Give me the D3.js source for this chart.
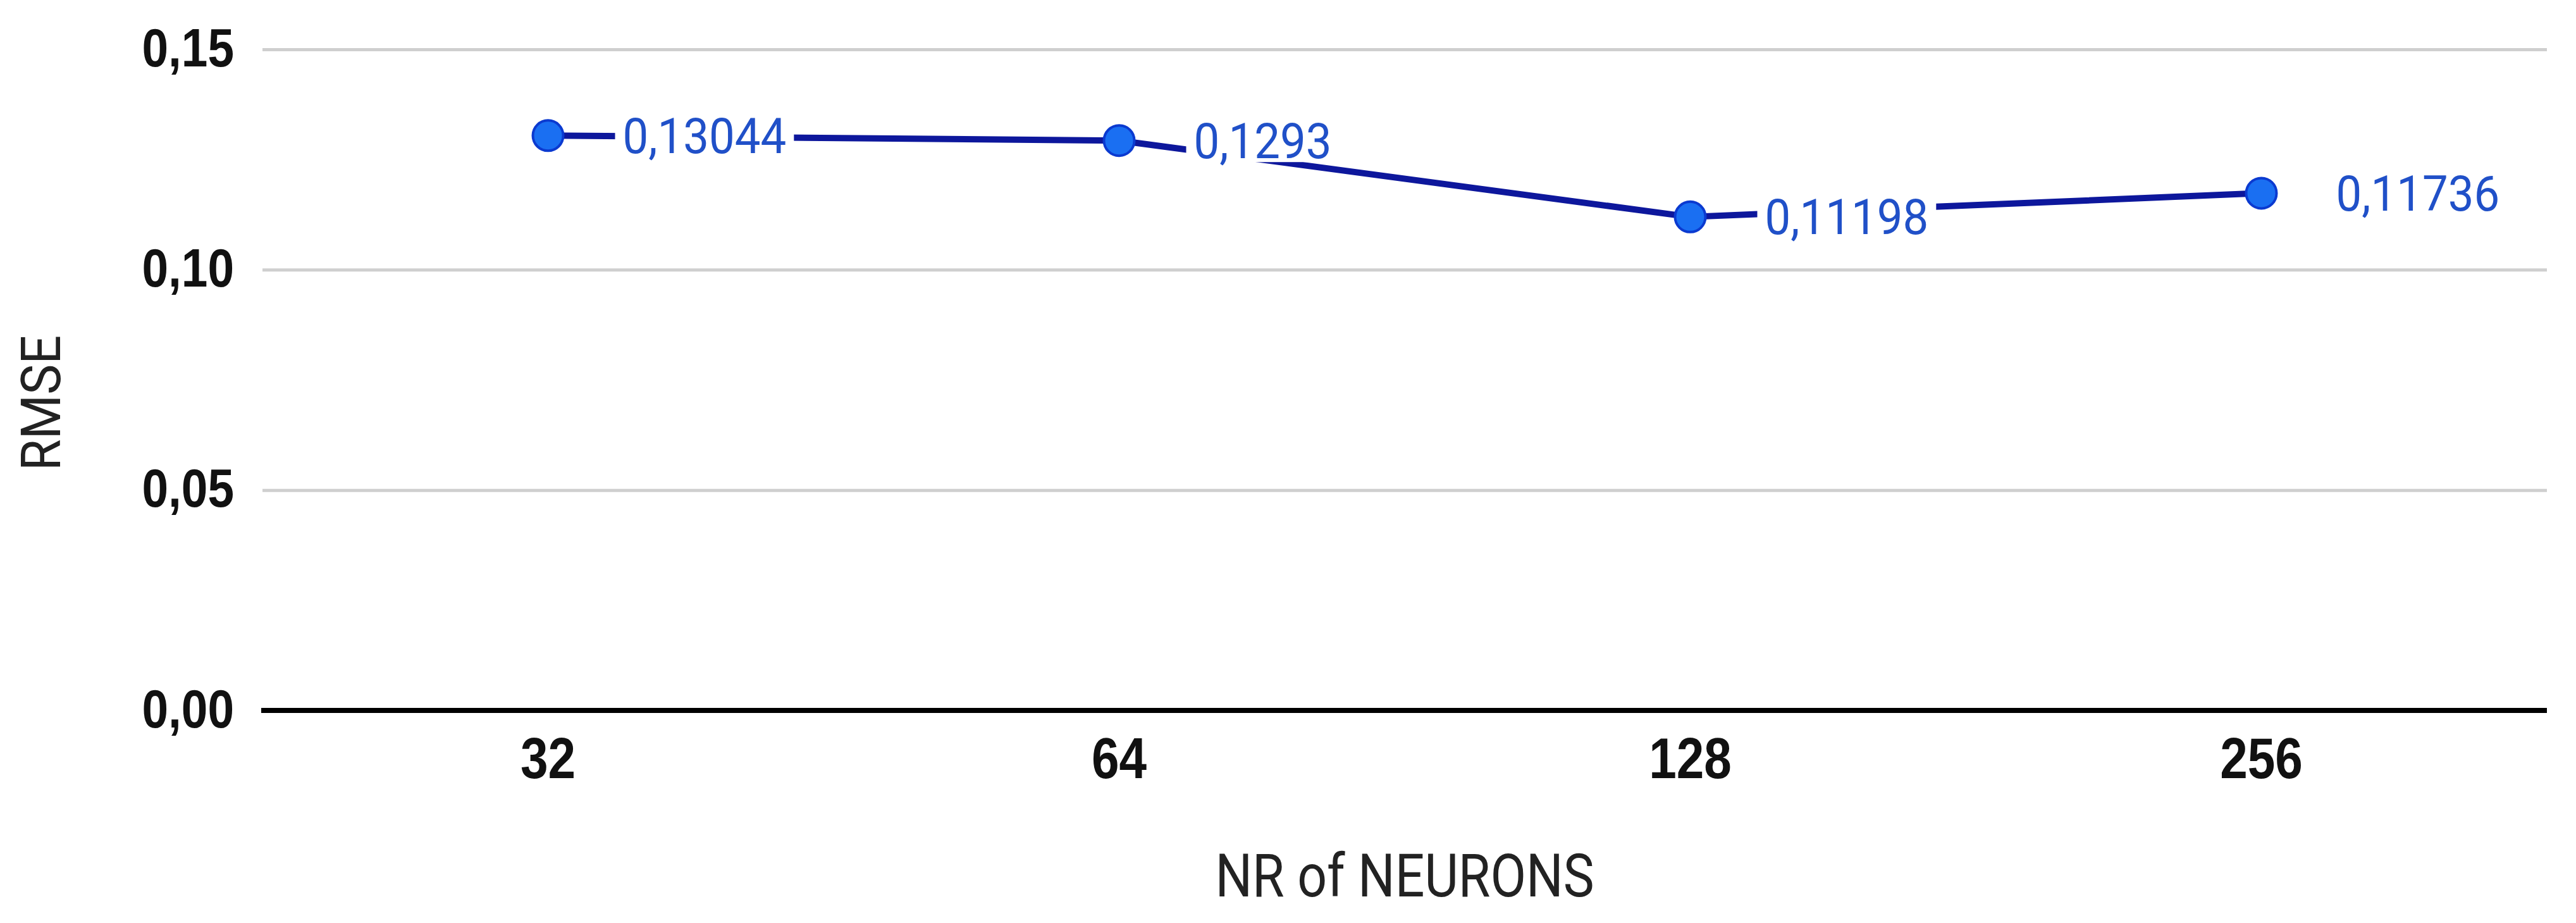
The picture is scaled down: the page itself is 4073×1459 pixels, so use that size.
<!DOCTYPE html>
<html>
<head>
<meta charset="utf-8">
<script src="https://cdn.jsdelivr.net/npm/d3@7/dist/d3.min.js"></script>
<style>
  html, body { margin: 0; padding: 0; background: #ffffff; }
  svg { display: block; }
</style>
</head>
<body>
<script>
// ---- data ----
const categories = ["32", "64", "128", "256"];
const rmseValues = [0.13044, 0.1293, 0.11198, 0.11736];
const pointLabels = ["0,13044", "0,1293", "0,11198", "0,11736"];
const yTickValues = [0, 0.05, 0.10, 0.15];
const xTitle = "NR of NEURONS";
const yTitle = "RMSE";

// ---- layout ----
const W = 4073, H = 1459;
const margin = { left: 415, right: 46, top: 78, bottom: 336 };
const plotW = W - margin.left - margin.right;
const plotH = H - margin.top - margin.bottom;

const svg = d3.select("body").append("svg")
  .attr("width", W).attr("height", H)
  .style("font-family", "Roboto, 'Liberation Sans', Arial, sans-serif");

const g = svg.append("g").attr("transform", `translate(${margin.left},${margin.top})`);

const x = d3.scaleBand().domain(categories).range([0, plotW]).padding(0);
const y = d3.scaleLinear().domain([0, 0.15]).range([plotH, 0]);
const cx = c => x(c) + x.bandwidth() / 2;

const fmt = v => d3.format(".2f")(v).replace(".", ",");

// y axis with gridlines
const yAxis = g.append("g")
  .call(d3.axisLeft(y).tickValues(yTickValues).tickFormat(fmt).tickSize(-plotW).tickPadding(0));
yAxis.select(".domain").remove();
yAxis.selectAll(".tick line").attr("stroke", "#cfcfcf").attr("stroke-width", 5);
yAxis.selectAll(".tick text")
  .attr("x", 0).attr("dy", null).attr("y", 0)
  .attr("text-anchor", "end")
  .attr("transform", "translate(-45,26) scale(0.87,1)")
  .attr("fill", "#111")
  .style("font-size", "86px").style("font-weight", "700");

// x axis
const xAxis = g.append("g")
  .attr("transform", `translate(0,${plotH})`)
  .call(d3.axisBottom(x).tickSize(0).tickPadding(0));
xAxis.select(".domain").remove();
xAxis.selectAll(".tick text")
  .attr("y", 0).attr("dy", null)
  .attr("transform", "translate(0,107) scale(0.87,1)")
  .attr("fill", "#111")
  .style("font-size", "90px").style("font-weight", "700");

// zero baseline
g.append("line")
  .attr("x1", -2).attr("x2", plotW)
  .attr("y1", y(0)).attr("y2", y(0))
  .attr("stroke", "#000").attr("stroke-width", 8);

// series line
const data = categories.map((c, i) => ({ c, v: rmseValues[i], label: pointLabels[i] }));
g.append("path")
  .datum(data)
  .attr("fill", "none")
  .attr("stroke", "#0d179c")
  .attr("stroke-width", 10)
  .attr("stroke-linejoin", "round")
  .attr("d", d3.line().x(d => cx(d.c)).y(d => y(d.v)));

// points
g.selectAll("circle.pt").data(data).join("circle")
  .attr("class", "pt")
  .attr("cx", d => cx(d.c)).attr("cy", d => y(d.v))
  .attr("r", 24)
  .attr("fill", "#1a6ff2")
  .attr("stroke", "#0b3ad0").attr("stroke-width", 4);

// data labels with white backgrounds
const sx = 0.93;
const lab = g.selectAll("g.lab").data(data).join("g")
  .attr("class", "lab")
  .attr("transform", d => `translate(${cx(d.c) + 118},${y(d.v)})`);
const rects = lab.append("rect").attr("fill", "#fff");
const texts = lab.append("text")
  .attr("x", 0).attr("y", 0).attr("dy", "0.35em")
  .attr("transform", `scale(${sx},1)`)
  .attr("fill", "#2050c8")
  .style("font-size", "78px")
  .text(d => d.label);
texts.each(function(d, i) {
  const bb = this.getBBox();
  d3.select(rects.nodes()[i])
    .attr("x", -12).attr("y", -34)
    .attr("width", bb.width * sx + 24).attr("height", 68);
});

// axis titles
svg.append("text")
  .attr("transform", `translate(${margin.left + plotW / 2},1417) scale(0.875,1)`)
  .attr("text-anchor", "middle")
  .attr("fill", "#222")
  .style("font-size", "94px")
  .text(xTitle);

svg.append("text")
  .attr("transform", "translate(95,637) rotate(-90) scale(0.93,1)")
  .attr("text-anchor", "middle")
  .attr("fill", "#222")
  .style("font-size", "87px")
  .text(yTitle);
</script>
</body>
</html>
